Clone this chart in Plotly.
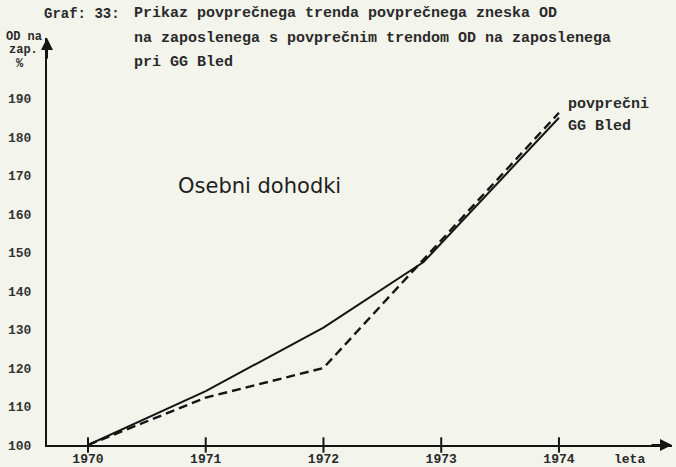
import plotly.graph_objects as go

# ---- data ----
years = [1970, 1971, 1972, 1973, 1974]
year_labels = ["1970", "1971", "1972", "1973", "1974"]
# average trend (solid line); kink after 1972 lies just before 1973
solid_x = [1970, 1971, 1972, 1972.85, 1974]
solid_y = [100, 114, 130.5, 147.5, 185]
# GG Bled trend (dashed line)
dashed_x = [1970, 1971, 1972, 1974]
dashed_y = [100, 112.3, 120, 186.3]
y_ticks = [100, 110, 120, 130, 140, 150, 160, 170, 180, 190]

title_lines = [
    "Prikaz povprečnega trenda povprečnega zneska OD",
    "na zaposlenega s povprečnim trendom OD na zaposlenega",
    "pri GG Bled",
]

W, H = 676, 467
L, R, T, B = 47, 4, 38, 22
PW, PH = W - L - R, H - T - B


def px(x):
    return (x - L) / PW


def py(y):
    return (H - B - y) / PH


ink = "#151515"
bold = dict(family="Liberation Mono", size=15, color="#2a2a2a", weight="bold")
small = dict(family="Liberation Mono", size=12, color="#2a2a2a", weight="bold")

fig = go.Figure()
fig.add_trace(go.Scatter(x=solid_x, y=solid_y, mode="lines",
                         line=dict(color=ink, width=2), hoverinfo="skip",
                         showlegend=False, cliponaxis=False))
fig.add_trace(go.Scatter(x=dashed_x, y=dashed_y, mode="lines",
                         line=dict(color=ink, width=2.4, dash="9px,5px"),
                         hoverinfo="skip", showlegend=False, cliponaxis=False))
# tick marks across the x axis
fig.add_trace(go.Scatter(x=years, y=[100] * len(years), mode="markers",
                         marker=dict(symbol="line-ns-open", size=11, color=ink,
                                     line=dict(color=ink, width=2)),
                         hoverinfo="skip", showlegend=False, cliponaxis=False))

annotations = []
# axis arrows
annotations.append(dict(xref="paper", yref="paper", x=1.0, y=0, ax=-22, ay=0,
                        showarrow=True, arrowhead=2, arrowsize=1.2,
                        arrowwidth=2, arrowcolor=ink, text=""))
annotations.append(dict(xref="paper", yref="paper", x=0, y=1.0, ax=0, ay=22,
                        showarrow=True, arrowhead=2, arrowsize=1.2,
                        arrowwidth=2, arrowcolor=ink, text=""))


def txt(s, x, y, font, anchor="left"):
    annotations.append(dict(xref="paper", yref="paper", x=px(x), y=py(y),
                            text=s, showarrow=False, xanchor=anchor,
                            yanchor="middle", font=font))


txt("Graf: 33:", 42, 14, dict(bold, size=14))
txt(title_lines[0], 132, 14, bold)
txt(title_lines[1], 132, 39, bold)
txt(title_lines[2], 132, 62, bold)
txt("OD na", 4, 37, small)
txt("zap.", 7, 50, small)
txt("%", 14, 64, small)
txt("povprečni", 566, 105, bold)
txt("GG Bled", 566, 127, bold)
txt("leta", 612, 459, dict(family="Liberation Mono", size=13,
                           color="#2a2a2a", weight="bold"))
txt("Osebni dohodki", 176, 186,
    dict(family="DejaVu Sans", size=21, color="#1e1e1e"))

fig.update_layout(
    width=W, height=H,
    margin=dict(l=L, r=R, t=T, b=B, pad=0),
    paper_bgcolor="#f3f5ec", plot_bgcolor="#f3f5ec",
    annotations=annotations,
    xaxis=dict(range=[1969.652, 1974.96], tickvals=years, ticktext=year_labels,
               showgrid=False, zeroline=False, showline=True, linecolor=ink,
               linewidth=2, ticks="", ticklabelstandoff=0, automargin=False,
               tickfont=dict(family="Liberation Mono", size=13, color="#2a2a2a",
                             weight="bold")),
    yaxis=dict(range=[100, 205.7], tickvals=y_ticks, automargin=False,
               showgrid=False, zeroline=False, showline=True, linecolor=ink,
               linewidth=2, ticks="", ticklabelstandoff=11,
               tickfont=dict(family="Liberation Mono", size=13, color="#333333",
                             weight="bold")),
)

fig.write_html("out.html",
               config={"displayModeBar": False},
               post_script="document.body.style.margin='0';"
                           "document.body.style.overflow='hidden';")
